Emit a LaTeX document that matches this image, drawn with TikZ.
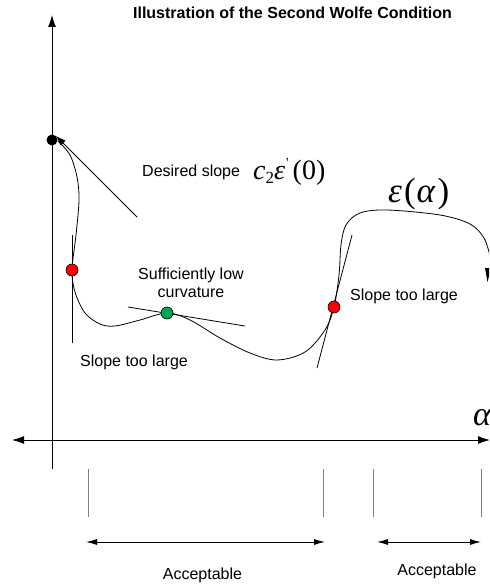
\documentclass[tikz,border=0pt]{standalone}
\usepackage{fontspec}
\setmainfont{Liberation Sans}
\newfontfamily\serifmath{Liberation Serif}
\usetikzlibrary{arrows.meta}
\definecolor{dotgreen}{RGB}{0,166,81}
\definecolor{bargray}{RGB}{128,128,128}
\tikzset{
  lbl/.style={inner sep=0pt, font=\fontsize{16}{18}\selectfont},
  ttl/.style={inner sep=0pt, font=\fontsize{16}{18}\selectfont\bfseries},
  axisarrow/.style={line width=0.9pt, -{Latex[length=12pt,width=8pt]}},
  thinline/.style={line width=0.8pt},
  barline/.style={line width=1pt, draw=bargray},
  accrange/.style={line width=0.9pt, {Latex[length=11pt,width=6pt]}-{Latex[length=11pt,width=6pt]}},
  reddot/.style={circle, draw=black, fill=red, line width=0.6pt, minimum size=12pt, inner sep=0pt},
  greendot/.style={circle, draw=black, fill=dotgreen, line width=0.6pt, minimum size=12pt, inner sep=0pt},
}
\begin{document}
\begin{tikzpicture}[x=1pt,y=-1pt]
\useasboundingbox (0,0) rectangle (489,585);
\clip (0,0) rectangle (489,585);
% title
\node[ttl] (title) at (292.5,13) {Illustration of the Second Wolfe Condition};
% axes
\coordinate (ybot) at (52,469);
\coordinate (ytop) at (52,15);
\draw[axisarrow] (ybot) -- (ytop);
\coordinate (xl) at (12,440);
\coordinate (xr) at (490,440);
\draw[line width=0.9pt, {Latex[length=12pt,width=8pt]}-{Latex[length=12pt,width=8pt]}] (xl) -- (xr);
\node[inner sep=0pt, anchor=base west, font=\fontsize{34}{36}\selectfont\serifmath\itshape] (alpha) at (473,425) {α};
% curve
\draw[thinline] plot[smooth, tension=0.55] coordinates {
 (58,141) (70,155) (77,177) (79,200) (76,235) (72,270) (75,292) (85,313) (100,324) (115,326)
 (140,320) (167,313) (190,320) (220,338) (250,353) (277,360) (305,352) (325,330) (334,307)
 (339,275) (341,245) (346,225) (360,213) (387,210) (440,215) (470,224) (484,238) (490,256)};
\fill (485,268) -- (491,268) -- (487.5,282) -- cycle;
% black dot with slope arrow
\node[circle, fill=black, minimum size=11pt, inner sep=0pt] (p0) at (52,140) {};
\coordinate (s0) at (137,217);
\draw[thinline, -{Latex[length=10pt,width=7pt]}] (s0) -- (p0.north east);
% tangent lines
\coordinate (t1a) at (72,235); \coordinate (t1b) at (72,343);
\draw[thinline] (t1a) -- (t1b);
\coordinate (t2a) at (128,307); \coordinate (t2b) at (245,326);
\draw[thinline] (t2a) -- (t2b);
\coordinate (t3a) at (352,235); \coordinate (t3b) at (317,368);
\draw[thinline] (t3a) -- (t3b);
% dots
\node[reddot] (r1) at (72,270) {};
\node[greendot] (g1) at (167,313) {};
\node[reddot] (r2) at (334,307) {};
% labels
\node[lbl, anchor=base west] (ds) at (142,177) {Desired slope};
\node[inner sep=0pt, anchor=base west, font=\fontsize{28}{30}\selectfont\serifmath] (c2) at (253,179)
  {\textit{c}\raisebox{-5pt}{\fontsize{17}{18}\selectfont 2}\textit{ε}\kern1pt\raisebox{12pt}{\fontsize{14}{14}\selectfont '}\kern4pt(0)};
\node[inner sep=0pt, anchor=base west, font=\fontsize{35}{36}\selectfont\serifmath] (eps) at (388,202) {\textit{ε}\kern2pt(\kern1pt\textit{α}\kern2pt)};
\node[lbl, align=center] (suff) at (191,283) {Sufficiently low\\curvature};
\node[lbl, anchor=base west] (stl2) at (350,300) {Slope too large};
\node[lbl, anchor=base west] (stl1) at (80,366) {Slope too large};
% bars
\coordinate (b1a) at (88,469); \coordinate (b1b) at (88,517);
\coordinate (b2a) at (323,469); \coordinate (b2b) at (323,517);
\coordinate (b3a) at (373,469); \coordinate (b3b) at (373,517);
\coordinate (b4a) at (481,469); \coordinate (b4b) at (481,517);
\draw[barline] (b1a) -- (b1b);
\draw[barline] (b2a) -- (b2b);
\draw[barline] (b3a) -- (b3b);
\draw[barline] (b4a) -- (b4b);
% acceptable ranges
\coordinate (a1l) at (86,542); \coordinate (a1r) at (325,542);
\coordinate (a2l) at (377,542); \coordinate (a2r) at (481,542);
\draw[accrange] (a1l) -- (a1r);
\draw[accrange] (a2l) -- (a2r);
\node[lbl, anchor=base] (acc1) at (202.5,579) {Acceptable};
\node[lbl, anchor=base] (acc2) at (437,575) {Acceptable};
\end{tikzpicture}
\end{document}
